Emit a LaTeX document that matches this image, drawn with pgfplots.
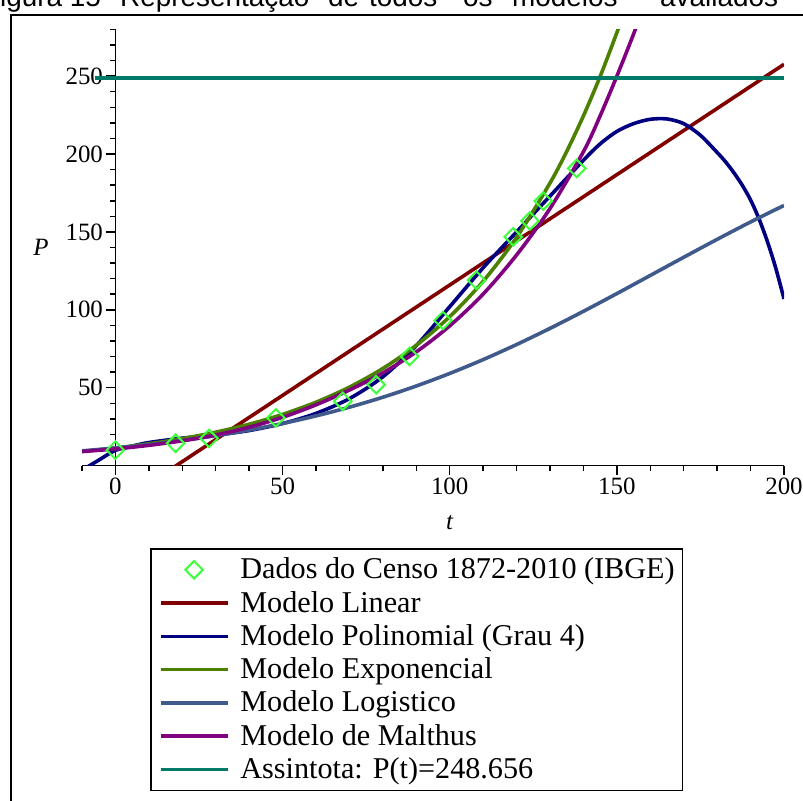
\documentclass[border=0pt]{standalone}
\usepackage{pgfplots}
\pgfplotsset{compat=1.18}
\usepackage{fontspec}
\setmainfont{Liberation Serif}
\newfontfamily\capfont{Liberation Sans}
\definecolor{clin}{RGB}{128,0,0}
\definecolor{cpol}{RGB}{0,0,128}
\definecolor{cexp}{RGB}{76,128,0}
\definecolor{clog}{RGB}{64,90,140}
\definecolor{cmal}{RGB}{128,0,128}
\definecolor{casy}{RGB}{0,122,104}
\definecolor{cdat}{RGB}{60,255,60}
\pgfplotsset{
  myleglines/.style={legend image code/.code={\draw[##1] (0bp,0bp) -- (67bp,0bp);}},
  mylegmark/.style={legend image code/.code={\draw[mark repeat=2,mark phase=2,##1] plot coordinates {(0bp,0bp) (33.5bp,0bp) (67bp,0bp)};}},
}
\begin{document}
\begin{tikzpicture}[x=1bp,y=1bp]
\useasboundingbox (0,0) rectangle (803,801);
\begin{scope}[every node/.style={anchor=base west, inner sep=0pt, font=\capfont\fontsize{28}{30}\selectfont}]
\node at (-17,794) {Figura 15 -};
\node at (120,794) {Representação};
\node at (328,794) {de};
\node at (369,794) {todos};
\node at (463,794) {os};
\node at (512,794) {modelos};
\node at (660,794) {avaliados};
\end{scope}
\draw[line width=2bp] (11,-20) -- (11,785.5) -- (830,785.5);
\begin{axis}[
  at={(82bp,335.4bp)}, anchor=south west, scale only axis,
  width=702bp, height=436.2bp,
  xmin=-10, xmax=200, ymin=0, ymax=280,
  axis lines=middle, axis line style={-, line width=1.5bp, black},
  hide obscured x ticks=false, hide obscured y ticks=false,
  tick align=outside, tick style={line width=1.5bp, black},
  major tick length=9bp, minor tick length=5bp,
  xtick={0,50,100,150,200}, minor xtick={-10,0,...,200},
  ytick={50,100,150,200,250}, minor ytick={0,10,...,280},
  /pgf/number format/assume math mode=true,
  ticklabel style={font=\fontsize{25}{25}\selectfont},
  xlabel={\textit{t}}, ylabel={\textit{P}},
  label style={font=\fontsize{25}{25}\selectfont},
  x label style={at={(axis cs:100,0)}, anchor=center, yshift=-57bp},
  y label style={at={(axis cs:-10,140)}, anchor=center, xshift=-41bp},
  clip=true,
  legend cell align=left,
  legend style={at={(0.0969,-0.189)}, anchor=north west, draw=black, line width=1.5bp, fill=white,
    font=\fontsize{30.3}{33}\selectfont, inner xsep=8bp, inner ysep=6bp,
    row sep=3.3bp, column sep=11bp,
    nodes={inner sep=0pt, text height=24bp, text depth=6bp}},
  myleglines,
]
\addplot[only marks, mark=square, mark size=6.2bp, mark options={rotate=45, line width=2bp, draw=cdat, fill=none}, mylegmark]
coordinates {(0,9.93) (18,14.33) (28,17.44) (48,30.64) (68,41.24) (78,51.94) (88,70.07) (98,93.14) (108,119.00) (119,146.83) (124,157.07) (128,169.80) (138,190.76)};
\addlegendentry{Dados do Censo 1872-2010 (IBGE)}
\addplot[clin, line width=3.6bp] coordinates {(-10,-39.96) (200,257.6)};
\addlegendentry{Modelo Linear}
\addplot[cpol, line width=3.6bp, smooth] coordinates {
(-10,-3) (-5,3.5) (0,9.8) (5,12.5) (10,14.8) (20,17.6) (30,19.6) (40,22.5) (50,27.0) (60,33.5) (70,43.0) (80,57.0) (90,77.0) (100,102.0) (110,127.0) (120,150.0) (130,173.0) (140,196.0) (145,206.5) (150,214.5) (155,219.5) (160,222.3) (165,222.5) (170,219.5) (175,212.0) (180,201.0) (182.5,195.0) (185,188.0) (187.5,180.0) (190,170.5) (192.5,158.5) (195,144.0) (197.5,127.0) (200,107.0)};
\addlegendentry{Modelo Polinomial (Grau 4)}
\addplot[cexp, line width=3.6bp, smooth] coordinates {
(-10,9.13) (0,11.3) (10,13.99) (20,17.32) (30,21.44) (40,26.54) (50,32.86) (60,40.68) (70,50.37) (80,62.35) (90,77.2) (100,95.6) (110,118.3) (120,146.5) (130,181.4) (135,201.7) (140,224.5) (145,249.8) (150,277.9) (153,296.3)};
\addlegendentry{Modelo Exponencial}
\addplot[clog, line width=3.6bp, smooth] coordinates {
(-10,9.44) (0,11.30) (10,13.51) (20,16.13) (30,19.20) (40,22.81) (50,27.02) (60,31.89) (70,37.49) (80,43.88) (90,51.09) (100,59.15) (110,68.03) (120,77.71) (130,88.08) (140,99.03) (150,110.42) (160,122.07) (170,133.72) (180,145.23) (190,156.38) (200,167.0)};
\addlegendentry{Modelo Logistico}
\addplot[cmal, line width=3.6bp, smooth] coordinates {
(-10,9.0) (0,10.7) (10,13.0) (20,15.9) (30,19.6) (40,24.6) (50,31.0) (60,39.0) (70,48.5) (80,59.5) (90,73.0) (100,89.7) (110,110.1) (120,135.2) (130,165.0) (140,201.5) (145,224.5) (150,250.0) (155,277.0) (158,294.6)};
\addlegendentry{Modelo de Malthus}
\addplot[casy, line width=3.6bp] coordinates {(-6.2,248.656) (200,248.656)};
\addlegendentry{Assintota: P(t)=248.656}
\end{axis}
\end{tikzpicture}
\end{document}
